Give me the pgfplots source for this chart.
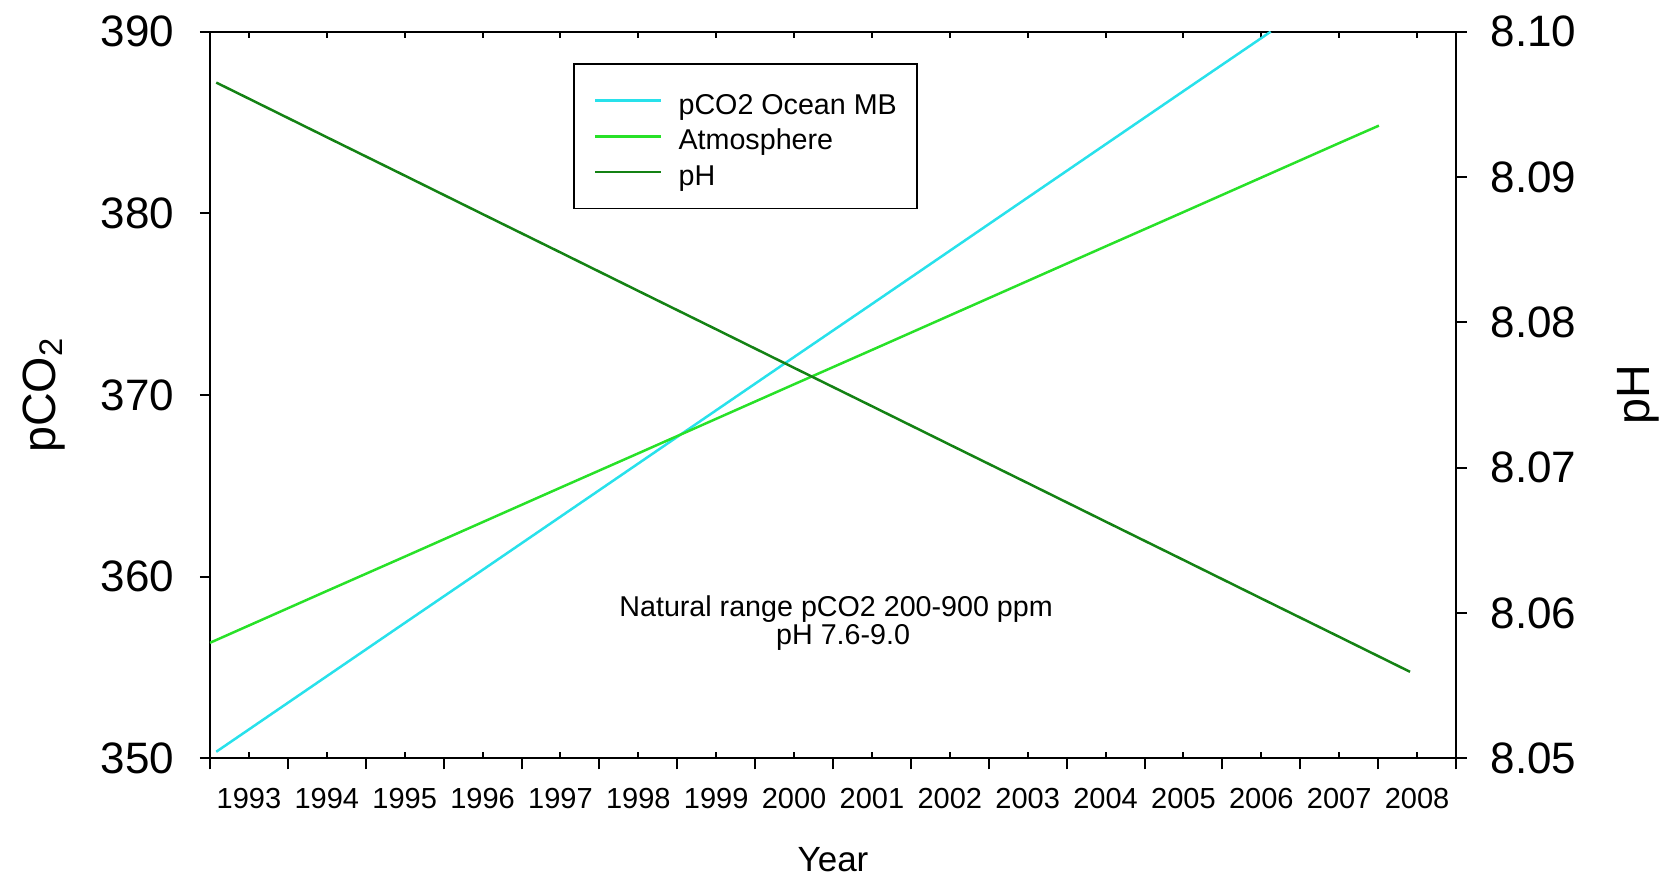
\documentclass[border=0pt]{standalone}
\usepackage{pgfplots}
\pgfplotsset{compat=1.18}
\usepackage{fontspec}
\setmainfont{Liberation Sans}
\definecolor{oceanc}{RGB}{40,225,235}
\definecolor{atmc}{RGB}{40,225,40}
\definecolor{phc}{RGB}{20,130,20}
\begin{document}
\begin{tikzpicture}
\useasboundingbox (-63pt,-35.31pt) rectangle ++(499.8pt,262.8pt);
\pgfplotsset{base/.style={scale only axis, width=373.8pt, height=217.98pt,
  xmin=1992.5, xmax=2008.5,
  axis line style={line width=0.6pt},
  every tick/.style={black, line width=0.6pt},
  /pgf/number format/assume math mode=true,
  /pgf/number format/1000 sep={}}}
% bottom half-year ticks, outside
\begin{axis}[base, ymin=0, ymax=1, axis y line=none, ytick=\empty,
  axis x line*=bottom,
  xtick={1992.5,1993.5,1994.5,1995.5,1996.5,1997.5,1998.5,1999.5,2000.5,2001.5,2002.5,2003.5,2004.5,2005.5,2006.5,2007.5,2008.5},
  xticklabels={}, tick align=outside, major tick length=3.3pt]
\end{axis}
% top integer ticks, inside
\begin{axis}[base, ymin=0, ymax=1, axis y line=none, ytick=\empty,
  axis x line*=top,
  xtick={1993,1994,1995,1996,1997,1998,1999,2000,2001,2002,2003,2004,2005,2006,2007,2008},
  xticklabels={}, tick align=inside, major tick length=2pt]
\end{axis}
% bottom integer ticks with labels
\begin{axis}[base, ymin=0, ymax=1, axis y line=none, ytick=\empty,
  axis x line*=bottom,
  xtick={1993,1994,1995,1996,1997,1998,1999,2000,2001,2002,2003,2004,2005,2006,2007,2008},
  tick align=inside, major tick length=2pt,
  xticklabel style={font=\fontsize{8.7}{9}\selectfont, inner sep=0pt, anchor=north, yshift=-8.9pt},
  xlabel={Year},
  xlabel style={font=\fontsize{10.5}{11}\selectfont, at={(axis description cs:0.5,-0.1389)}, anchor=center}]
\end{axis}
% left axis: pCO2
\begin{axis}[base, ymin=350, ymax=390, axis x line=none, xtick=\empty,
  axis y line*=left, ytick={350,360,370,380,390},
  tick align=outside, major tick length=3pt,
  yticklabel style={font=\fontsize{13.2}{14}\selectfont, inner sep=0pt, anchor=east, xshift=-7.5pt},
  ylabel={pCO\textsubscript{2}},
  ylabel style={font=\fontsize{14}{15}\selectfont, at={(axis description cs:-0.1335,0.5)}, anchor=center},
  legend style={at={(axis description cs:0.2916,0.9565)}, anchor=north west, draw=black, line width=0.45pt,
    inner xsep=6pt, inner ysep=5.55pt, font=\fontsize{8.6}{9}\selectfont,
    nodes={inner sep=0pt, text height=9.45pt, text depth=1.29pt},
    row sep=0pt, /tikz/every odd column/.append style={column sep=4.8pt}},
  legend cell align=left,
  legend image code/.code={\draw[#1] (0pt,0pt) -- (19.8pt,0pt);}]
\addplot[oceanc, line width=0.75pt] coordinates {
(1992.58,350.36) (1993,351.59) (1994,354.52) (1995,357.45) (1996,360.37) (1997,363.30)
(1998,366.23) (1999,369.16) (2000,372.09) (2001,375.01) (2002,377.94) (2003,380.87)
(2004,383.80) (2005,386.73) (2006,389.65) (2006.12,390.0)};
\addlegendentry{pCO2 Ocean MB}
\addplot[atmc, line width=0.75pt] coordinates {
(1992.5,356.36) (1993,357.31) (1994,359.21) (1995,361.10) (1996,363.00) (1997,364.90)
(1998,366.79) (1999,368.69) (2000,370.59) (2001,372.48) (2002,374.38) (2003,376.28)
(2004,378.18) (2005,380.07) (2006,381.97) (2007,383.87) (2007.51,384.83)};
\addlegendentry{Atmosphere}
\addlegendimage{phc, line width=0.75pt}
\addlegendentry{pH}
\node[anchor=base, font=\fontsize{8.6}{9}\selectfont, inner sep=0pt] at (axis cs:2000.54,357.80) {Natural range pCO2 200-900 ppm};
\node[anchor=base, font=\fontsize{8.6}{9}\selectfont, inner sep=0pt] at (axis cs:2000.63,356.24) {pH 7.6-9.0};
\end{axis}
% right axis: pH
\begin{axis}[base, ymin=8.05, ymax=8.10, axis x line=none, xtick=\empty,
  axis y line*=right, ytick={8.05,8.06,8.07,8.08,8.09,8.10},
  tick align=outside, major tick length=3.2pt,
  yticklabel style={font=\fontsize{13.2}{14}\selectfont, inner sep=0pt, anchor=west, xshift=7pt,
    /pgf/number format/.cd, fixed, fixed zerofill, precision=2},
  ylabel={pH},
  ylabel style={font=\fontsize{14}{15}\selectfont, at={(axis description cs:1.1466,0.5)}, anchor=center}]
\addplot[phc, line width=0.75pt] coordinates {
(1992.58,8.0965) (1993,8.09539) (1994,8.09274) (1995,8.09010) (1996,8.08745) (1997,8.08481)
(1998,8.08216) (1999,8.07952) (2000,8.07687) (2001,8.07423) (2002,8.07158) (2003,8.06894)
(2004,8.06629) (2005,8.06365) (2006,8.06100) (2007,8.05836) (2007.91,8.05595)};
\end{axis}
\end{tikzpicture}
\end{document}
